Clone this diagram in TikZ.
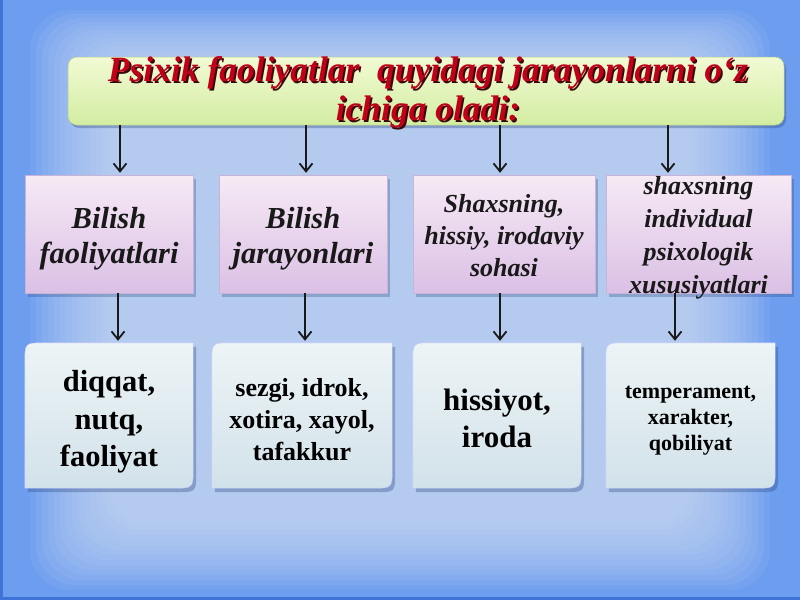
\documentclass[tikz,border=0pt]{standalone}
\usepackage{fontspec}
\setmainfont{Liberation Serif}
\usetikzlibrary{arrows.meta,shadows,backgrounds}
\definecolor{bgblue}{HTML}{6C9DEF}
\definecolor{bglight}{HTML}{D6E2F4}
\definecolor{bgedge}{HTML}{3E74D8}
\definecolor{titleTop}{HTML}{F2FAD4}
\definecolor{titleBot}{HTML}{D3EDA2}
\definecolor{titleEdge}{HTML}{B5CF86}
\definecolor{titleRed}{HTML}{C00018}
\definecolor{titleShadow}{HTML}{3A0808}
\definecolor{pinkTop}{HTML}{F6EAF5}
\definecolor{pinkBot}{HTML}{DBC0E5}
\definecolor{pinkEdge}{HTML}{C8B4D6}
\definecolor{blTop}{HTML}{EDF4F6}
\definecolor{blBot}{HTML}{D2E2EA}
\definecolor{shadowCol}{HTML}{2C4A80}
\newcommand\ttlshadow[1]{\leavevmode\rlap{\raisebox{-1.8pt}{\hspace*{1.8pt}\textcolor{titleShadow}{#1}}}#1}
\begin{document}
\begin{tikzpicture}[x=1pt,y=-1pt,
  arr/.style={line width=2pt, draw=black!90, -{Straight Barb[length=8pt,width=13pt,line width=1.8pt]}, shorten >=2pt},
  titlebox/.style={rectangle, rounded corners=9pt, minimum width=716pt, minimum height=68pt, inner sep=0pt,
     top color=titleTop, bottom color=titleBot, draw=titleEdge, line width=0.5pt,
     drop shadow={shadow xshift=2pt, shadow yshift=-3pt, opacity=0.35, fill=shadowCol}},
  titletext/.style={align=center, text=titleRed, font=\fontsize{35.5}{39}\selectfont\bfseries\itshape},
  topbox/.style={rectangle, minimum height=118pt, inner sep=0pt, align=center,
     top color=pinkTop, bottom color=pinkBot, draw=pinkEdge, line width=0.4pt,
     drop shadow={shadow xshift=3pt, shadow yshift=-4pt, opacity=0.3, fill=shadowCol}},
  bigit/.style={font=\fontsize{30.5}{35}\selectfont\bfseries\itshape, text=black!90},
  smallit/.style={font=\fontsize{26}{32}\selectfont\bfseries\itshape, text=black!90},
  botbox/.style={rectangle, minimum height=145pt, inner sep=0pt, align=center, text=black!95},
  botshape/.style={top color=blTop, bottom color=blBot, draw=white!80!blue, line width=0.4pt,
     drop shadow={shadow xshift=3pt, shadow yshift=-4pt, opacity=0.35, fill=shadowCol}}
]
\useasboundingbox (0,0) rectangle (800,600);

% background
\begin{scope}[on background layer]
  \fill[bgblue] (0,0) rectangle (800,600);
  \foreach \i in {0,...,13} {
    \fill[bglight, opacity=0.085, rounded corners=40pt] (30+\i*6, 10+\i*4) rectangle (770-\i*6, 590-\i*5);
  }
  \fill[bgedge] (0,0) rectangle (3,600);
  \fill[bgedge] (0,597) rectangle (800,600);
\end{scope}

% title box
\node[titlebox] (title) at (426,91) {};

% x positions of the connectors
\coordinate (ax1) at (120,0);
\coordinate (ax2) at (306,0);
\coordinate (ax3) at (500,0);
\coordinate (ax4) at (668,0);
\coordinate (bx1) at (118,0);
\coordinate (bx2) at (305,0);
\coordinate (bx3) at (500,0);
\coordinate (bx4) at (675,0);

% top boxes
\node[topbox, minimum width=168pt] (t1) at (109,234) {};
\node[topbox, minimum width=168pt] (t2) at (303,234) {};
\node[topbox, minimum width=182pt] (t3) at (504,234) {};
\node[topbox, minimum width=185pt] (t4) at (698.5,234) {};
\node[bigit, align=center] (t1txt) at (109,239) {Bilish\\faoliyatlari};
\node[bigit, align=center] (t2txt) at (303,239) {Bilish\\jarayonlari};
\node[smallit, align=center] (t3txt) at (504,236) {Shaxsning,\\hissiy, irodaviy\\sohasi};
\node[smallit, align=center, font=\fontsize{26}{33}\selectfont\bfseries\itshape] (t4txt) at (698.5,238) {shaxsning\\individual\\psixologik\\xususiyatlari};

% bottom boxes (shapes drawn behind, from their anchors)
\node[botbox, minimum width=168pt] (b1) at (109,415.5) {};
\node[botbox, minimum width=180pt] (b2) at (302,415.5) {};
\node[botbox, minimum width=168pt] (b3) at (497,415.5) {};
\node[botbox, minimum width=169pt] (b4) at (690.5,415.5) {};
\node[align=center, font=\fontsize{30.5}{37.5}\selectfont\bfseries] (b1txt) at (109,422) {diqqat,\\nutq,\\faoliyat};
\node[align=center, font=\fontsize{26}{32}\selectfont\bfseries] (b2txt) at (302,420) {sezgi, idrok,\\xotira, xayol,\\tafakkur};
\node[align=center, font=\fontsize{31}{37}\selectfont\bfseries] (b3txt) at (497,418) {hissiyot,\\iroda};
\node[align=center, font=\fontsize{22}{26}\selectfont\bfseries] (b4txt) at (690.5,421) {temperament,\\xarakter,\\qobiliyat};

\begin{scope}[on background layer]
  \foreach \n in {b1,b2,b3,b4} {
    \path[botshape] ([yshift=-20pt]\n.north west) .. controls (\n.north west) .. ([xshift=20pt]\n.north west)
      -- (\n.north east) -- ([yshift=20pt]\n.south east) .. controls (\n.south east) .. ([xshift=-20pt]\n.south east)
      -- (\n.south west) -- cycle;
  }
\end{scope}

% connectors
\draw[arr] (title.south -| ax1) -- (t1.north -| ax1);
\draw[arr] (title.south -| ax2) -- (t2.north -| ax2);
\draw[arr] (title.south -| ax3) -- (t3.north -| ax3);
\draw[arr] (title.south -| ax4) -- (t4.north -| ax4);
\draw[arr] (t1.south -| bx1) -- (b1.north -| bx1);
\draw[arr] (t2.south -| bx2) -- (b2.north -| bx2);
\draw[arr] (t3.south -| bx3) -- (b3.north -| bx3);
\draw[arr] (t4.south -| bx4) -- (b4.north -| bx4);

% title text with its shadow
\node[titletext] (titletxt) at (428,93) {\ttlshadow{Psixik faoliyatlar\ \ quyidagi jarayonlarni o‘z}\\\ttlshadow{ichiga oladi:}};
\end{tikzpicture}
\end{document}
